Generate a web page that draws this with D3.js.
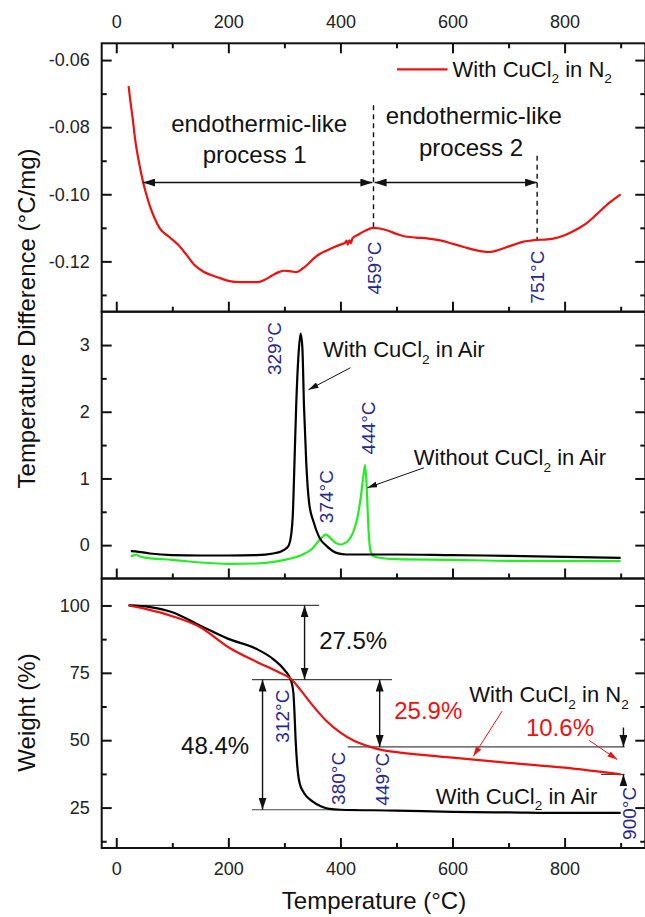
<!DOCTYPE html>
<html>
<head>
<meta charset="utf-8">
<title>DSC / TGA</title>
<style>
  body { margin: 0; background: #fff; }
  text { font-family: 'Liberation Sans', Arial, sans-serif; }
</style>
</head>
<body>
<div id="chart"></div>
<script src="https://cdn.jsdelivr.net/npm/d3@7"></script>
<script>
// ---- data (temperature in °C, value) ----
var dscN2 = [[22,-0.0678],[25,-0.072],[29,-0.077],[34,-0.084],[40,-0.090],[48,-0.0965],[59,-0.103],[68,-0.107],
  [77,-0.110],[95,-0.1128],[110,-0.115],[125,-0.118],[139,-0.121],[155,-0.123],[168,-0.124],[185,-0.125],
  [200,-0.1258],[220,-0.1262],[253,-0.1262],[265,-0.1255],[278,-0.1242],[290,-0.1232],[300,-0.1228],
  [312,-0.1230],[322,-0.1232],[332,-0.1222],[341,-0.121],[352,-0.1192],[363,-0.1178],[375,-0.1168],
  [388,-0.1158],[400,-0.1150],[408,-0.1145],[411,-0.1138],[413,-0.1150],[416,-0.1137],[419,-0.1146],
  [421,-0.1132],[432,-0.112],[445,-0.1108],[458,-0.1100],[470,-0.1102],[484,-0.1108],[500,-0.1118],
  [513,-0.1125],[535,-0.1129],[557,-0.1132],[580,-0.1138],[601,-0.1148],[620,-0.1157],[637,-0.1165],
  [652,-0.117],[667,-0.1172],[682,-0.1166],[696,-0.1158],[710,-0.1150],[725,-0.1142],[740,-0.1138],
  [751,-0.1136],[765,-0.1135],[780,-0.1132],[800,-0.1122],[821,-0.1105],[840,-0.1085],[857,-0.106],
  [880,-0.1025],[900,-0.100]];

var dscAir = [[26,-0.09],[40,-0.10],[60,-0.125],[100,-0.15],[150,-0.155],[200,-0.155],[250,-0.15],
  [280,-0.125],[295,-0.09],[303,-0.05],[308,0.0],[312,0.15],[315,0.45],[318,1.24],[321,2.08],[325,2.83],
  [329,3.17],[332,2.97],[335,2.08],[339,1.24],[344,0.64],[352,0.35],[362,0.12],[377,-0.025],[396,-0.124],
  [410,-0.14],[500,-0.14],[600,-0.15],[700,-0.16],[800,-0.175],[900,-0.19]];

var dscNoCu = [[26,-0.17],[32,-0.15],[36,-0.14],[42,-0.17],[55,-0.19],[100,-0.22],[150,-0.26],[200,-0.28],
  [250,-0.275],[300,-0.22],[330,-0.15],[350,-0.05],[362,0.075],[370,0.14],[374,0.16],[378,0.14],[384,0.09],
  [392,0.03],[400,0.01],[408,0.03],[415,0.08],[422,0.18],[430,0.40],[436,0.70],[441,1.04],[444,1.2],
  [447,0.84],[450,0.25],[454,-0.1],[460,-0.17],[480,-0.2],[500,-0.21],[600,-0.22],[700,-0.235],[900,-0.24]];

var tgaAir = [[22,100],[60,99.4],[100,97.5],[150,92.5],[200,87.6],[250,83.9],[280,80.1],[300,76.1],[312,72],
  [316,67.7],[318,60.2],[320,50.3],[323,40.4],[327,34.2],[335,30.4],[350,27.3],[365,25.5],[380,24.5],
  [400,24.2],[500,23.9],[600,23.4],[700,23.2],[800,23.0],[900,23.0]];

var tgaN2 = [[22,100],[50,98.8],[100,96],[150,91.9],[200,84.5],[250,79.1],[290,75.2],[312,72.7],[330,68.3],
  [350,63],[375,57.1],[400,52.8],[425,49.7],[449,47.8],[475,46.3],[500,45.6],[600,43.5],[700,41.6],
  [800,39.8],[900,37.3]];

// ---- ticks ----
var xMajor = [0, 200, 400, 600, 800];
var xMinor = [100, 300, 500, 700, 900];
var dscMajor = [-0.06, -0.08, -0.10, -0.12], dscLabels = ['-0.06', '-0.08', '-0.10', '-0.12'];
var dscMinor = [-0.07, -0.09, -0.11, -0.13];
var airMajor = [0, 1, 2, 3], airLabels = ['0', '1', '2', '3'];
var airMinor = [0.5, 1.5, 2.5];
var tgaMajor = [25, 50, 75, 100], tgaLabels = ['25', '50', '75', '100'];
var tgaMinor = [12.5, 37.5, 62.5, 87.5];

var blue = '#27278f', red = '#ee1111', green = '#22ee22', ink = '#111';

var W = 645, H = 917;
var svg = d3.select('#chart').append('svg').attr('width', W).attr('height', H);
var defs = svg.append('defs');

function marker(id, color, len, wid) {
  defs.append('marker').attr('id', id)
    .attr('viewBox', '0 0 10 10').attr('refX', 10).attr('refY', 5)
    .attr('markerUnits', 'userSpaceOnUse').attr('preserveAspectRatio', 'none')
    .attr('markerWidth', len).attr('markerHeight', wid)
    .attr('orient', 'auto-start-reverse')
    .append('path').attr('d', 'M0,0L10,5L0,10z').attr('fill', color);
}
marker('ab', '#111', 12, 8);
marker('as', '#111', 10, 6);
marker('ar', red, 10, 6);

var x = d3.scaleLinear().domain([-26, 944]).range([101.7, 645.3]);
var x0 = x.range()[0], x1 = x.range()[1];

var y1 = d3.scaleLinear().domain([-0.135, -0.055]).range([311.7, 43.3]);
var y2 = d3.scaleLinear().domain([-0.5, 3.5]).range([578.5, 311.7]);
var y3 = d3.scaleLinear().domain([10, 110]).range([848, 578.5]);

function styleAxis(g, size) {
  g.select('.domain').remove();
  g.selectAll('.tick line').attr('stroke', ink).attr('stroke-width', 2);
  g.selectAll('.tick text').attr('font-size', size).attr('fill', '#222')
    .style('font-family', "'Liberation Sans', Arial, sans-serif");
}

function panel(y, major, labels, minor, topLabels, bottomLabels) {
  var yb = y.range()[0], yt = y.range()[1];
  var g = svg.append('g');
  var a;
  a = g.append('g').attr('transform', 'translate(' + x0 + ',0)')
    .call(d3.axisLeft(y).tickValues(major).tickFormat(function(d, i) { return labels[i]; })
      .tickSize(-10).tickPadding(12));
  styleAxis(a, 18);
  a = g.append('g').attr('transform', 'translate(' + x0 + ',0)')
    .call(d3.axisLeft(y).tickValues(minor).tickFormat('').tickSize(-5));
  styleAxis(a, 18);
  a = g.append('g').attr('transform', 'translate(' + x1 + ',0)')
    .call(d3.axisRight(y).tickValues(major).tickFormat('').tickSize(-10));
  styleAxis(a, 18);
  a = g.append('g').attr('transform', 'translate(' + x1 + ',0)')
    .call(d3.axisRight(y).tickValues(minor).tickFormat('').tickSize(-5));
  styleAxis(a, 18);
  a = g.append('g').attr('transform', 'translate(0,' + yb + ')')
    .call(d3.axisBottom(x).tickValues(xMajor).tickFormat(bottomLabels ? d3.format('d') : '')
      .tickSize(-10).tickPadding(14));
  styleAxis(a, 18);
  a = g.append('g').attr('transform', 'translate(0,' + yb + ')')
    .call(d3.axisBottom(x).tickValues(xMinor).tickFormat('').tickSize(-5));
  styleAxis(a, 18);
  if (topLabels) {
    a = g.append('g').attr('transform', 'translate(0,' + yt + ')')
      .call(d3.axisTop(x).tickValues(xMajor).tickFormat(d3.format('d')).tickSize(-10).tickPadding(15));
    styleAxis(a, 18);
    a = g.append('g').attr('transform', 'translate(0,' + yt + ')')
      .call(d3.axisTop(x).tickValues(xMinor).tickFormat('').tickSize(-5));
    styleAxis(a, 18);
  }
  g.append('rect').attr('x', x0).attr('y', yt).attr('width', x1 - x0).attr('height', yb - yt)
    .attr('fill', 'none').attr('stroke', ink).attr('stroke-width', 2);
}

panel(y1, dscMajor, dscLabels, dscMinor, true, false);
panel(y2, airMajor, airLabels, airMinor, false, false);
panel(y3, tgaMajor, tgaLabels, tgaMinor, false, true);

function curve(data, y, color) {
  var line = d3.line().x(function(d) { return x(d[0]); }).y(function(d) { return y(d[1]); })
    .curve(d3.curveMonotoneX);
  svg.append('path').datum(data).attr('d', line)
    .attr('fill', 'none').attr('stroke', color).attr('stroke-width', 2.2).attr('stroke-linejoin', 'round');
}

function seg(t1, v1, t2, v2, y, opt) {
  opt = opt || {};
  var l = svg.append('line')
    .attr('x1', x(t1)).attr('y1', y(v1)).attr('x2', x(t2)).attr('y2', y(v2))
    .attr('stroke', opt.color || ink).attr('stroke-width', opt.w || 1.3);
  if (opt.dash) l.attr('stroke-dasharray', opt.dash);
  if (opt.end) l.attr('marker-end', 'url(#' + opt.end + ')');
  if (opt.start) l.attr('marker-start', 'url(#' + opt.start + ')');
  return l;
}

// text with _2 style subscripts
function rich(px, py, str, size, fill, anchor) {
  var t = svg.append('text').attr('x', px).attr('y', py).attr('font-size', size)
    .attr('fill', fill || '#111').attr('text-anchor', anchor || 'start');
  var parts = str.split(/_(\d)/);
  parts.forEach(function(s, i) {
    if (i % 2 === 0) {
      if (s) {
        var ts = t.append('tspan').text(s);
        if (i > 0) ts.attr('dy', -0.3 * size);
      }
    } else {
      t.append('tspan').text(s).attr('font-size', size * 0.62).attr('dy', 0.3 * size);
    }
  });
  return t;
}

function vlabel(T, v, y, str) {
  svg.append('text')
    .attr('transform', 'translate(' + (x(T) + 0.36 * 19) + ',' + y(v) + ') rotate(-90)')
    .attr('font-size', 19).attr('fill', blue).text(str);
}

// ---- top panel: DSC in N2 ----
seg(459, -0.0735, 459, -0.110, y1, {dash: '5,4', w: 1.4});
seg(751, -0.0885, 751, -0.1136, y1, {dash: '5,4', w: 1.4});
curve(dscN2, y1, red);
seg(48, -0.0965, 457, -0.0965, y1, {start: 'ab', end: 'ab', w: 1.5});
seg(461, -0.0965, 751, -0.0965, y1, {start: 'ab', end: 'ab', w: 1.5});
rich(x(255), y1(-0.0815), 'endothermic-like', 24, '#111', 'middle');
rich(x(247), y1(-0.0908), 'process 1', 24, '#111', 'middle');
rich(x(638), y1(-0.0792), 'endothermic-like', 24, '#111', 'middle');
rich(x(633), y1(-0.0885), 'process 2', 24, '#111', 'middle');
seg(501, -0.0628, 591, -0.0628, y1, {color: red, w: 2.2});
rich(x(600), y1(-0.065), 'With CuCl_2 in N_2', 22);
vlabel(461, -0.1299, y1, '459°C');
vlabel(751, -0.1326, y1, '751°C');

// ---- middle panel: DSC in air ----
curve(dscNoCu, y2, green);
curve(dscAir, y2, '#000');
vlabel(282, 2.55, y2, '329°C');
vlabel(374, 0.33, y2, '374°C');
vlabel(450, 1.36, y2, '444°C');
rich(x(369), y2(2.82), 'With CuCl_2 in Air', 22);
seg(418, 2.66, 343, 2.33, y2, {end: 'as', w: 1});
rich(x(531), y2(1.2), 'Without CuCl_2 in Air', 22);
seg(549, 1.16, 448, 0.86, y2, {end: 'as', w: 1});

// ---- bottom panel: TGA ----
seg(22, 100, 362, 100, y3, {color: '#444', w: 1.2});
seg(242, 72.5, 492, 72.5, y3, {color: '#444', w: 1.2});
seg(242, 24.2, 431, 24.2, y3, {color: '#444', w: 1.2});
seg(413, 47.5, 907, 47.5, y3, {color: '#444', w: 1.2});
seg(865, 37.3, 907, 37.3, y3, {color: '#444', w: 1.2});
curve(tgaAir, y3, '#000');
curve(tgaN2, y3, red);
seg(336, 100, 336, 72.5, y3, {start: 'ab', end: 'ab', w: 1.4});
seg(261, 72.5, 261, 24.2, y3, {start: 'ab', end: 'ab', w: 1.4});
seg(470, 72.5, 470, 47.5, y3, {start: 'ab', end: 'ab', w: 1.4});
seg(905, 54.7, 905, 47.5, y3, {end: 'ab', w: 1.4});
seg(905, 33.5, 905, 37.3, y3, {end: 'ab', w: 1.4});
rich(x(362), y3(83.8), '27.5%', 24);
rich(x(115.6), y3(45), '48.4%', 24);
rich(x(496), y3(57.7), '25.9%', 24, red);
rich(x(731), y3(51.7), '10.6%', 24, red);
rich(x(630), y3(64.2), 'With CuCl_2 in N_2', 22);
rich(x(570), y3(26.4), 'With CuCl_2 in Air', 22);
seg(688.5, 60.8, 637, 44.0, y3, {color: red, end: 'ar', w: 1});
seg(844, 49.9, 894, 42.8, y3, {color: red, end: 'ar', w: 1});
vlabel(296, 49.1, y3, '312°C');
vlabel(396, 26, y3, '380°C');
vlabel(475, 25.7, y3, '449°C');
vlabel(916, 13, y3, '900°C');

// ---- axis titles ----
svg.append('text').attr('x', 374).attr('y', 909).attr('text-anchor', 'middle')
  .attr('font-size', 24).attr('fill', '#111').text('Temperature (°C)');
svg.append('text').attr('transform', 'translate(35,318.5) rotate(-90)').attr('text-anchor', 'middle')
  .attr('font-size', 24).attr('fill', '#111').text('Temperature Difference (°C/mg)');
svg.append('text').attr('transform', 'translate(35,712.5) rotate(-90)').attr('text-anchor', 'middle')
  .attr('font-size', 24).attr('fill', '#111').text('Weight (%)');
</script>
</body>
</html>
